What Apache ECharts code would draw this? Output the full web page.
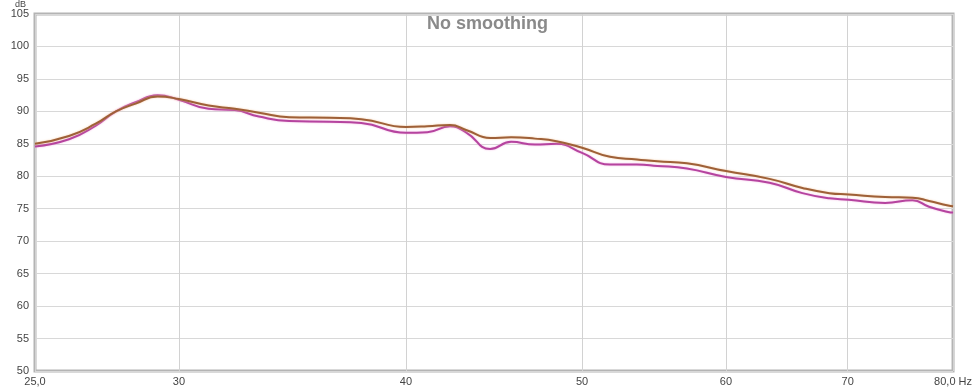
<!DOCTYPE html>
<html>
<head>
<meta charset="utf-8">
<script src="https://cdn.jsdelivr.net/npm/echarts@6/dist/echarts.min.js"></script>
<style>html,body{margin:0;padding:0;background:#fff;}#c{width:975px;height:389px;}</style>
</head>
<body>
<div id="c"></div>
<script>
const freqs = [25, 26.1, 27.0, 27.7, 28.4, 29.2, 30, 31.15, 32.2, 33.2, 34.5, 36.3, 37.8, 40, 41.1, 42.3, 43.2, 44.5, 45.7, 47.1, 48.4, 50, 51.8, 53.6, 55.0, 57.1, 60, 63.4, 66.1, 68.4, 70.1, 73.4, 76.0, 77.6, 79.5, 80];
const brownDb = [85.0, 86.2, 88.1, 90.0, 91.2, 92.3, 91.9, 90.9, 90.4, 89.8, 89.1, 89.0, 88.8, 87.6, 87.7, 87.9, 87.1, 85.9, 86.0, 85.8, 85.4, 84.4, 83.0, 82.6, 82.3, 82.0, 80.8, 79.6, 78.2, 77.4, 77.2, 76.8, 76.7, 76.2, 75.5, 75.4];
const magentaDb = [84.6, 85.7, 87.8, 90.0, 91.4, 92.5, 91.8, 90.4, 90.2, 89.2, 88.5, 88.4, 88.2, 86.7, 86.8, 87.7, 86.7, 84.2, 85.3, 84.9, 85.0, 83.6, 81.8, 81.8, 81.6, 81.2, 79.9, 79.0, 77.4, 76.6, 76.4, 75.9, 76.3, 75.3, 74.5, 74.4];
const xTickValues = [25, 30, 40, 50, 60, 70, 80];
const xTickLabels = ['25,0', '30', '40', '50', '60', '70', '80,0 Hz'];
const xMin = 25, xMax = 80;

const toLn = f => Math.log(f);
const mk = arr => freqs.map((f, i) => [toLn(f), arr[i]]);
const font = 'Liberation Sans, Arial, sans-serif';

const chart = echarts.init(document.getElementById('c'), null, {renderer: 'canvas'});
chart.setOption({
  animation: false,
  backgroundColor: '#fff',
  title: {
    text: 'No smoothing', left: 'center', top: 10,
    textStyle: {color: '#8a8a8a', fontSize: 18, fontWeight: 'bold', fontFamily: font}
  },
  graphic: [{type: 'text', left: 15, top: 0, style: {text: 'dB', fontSize: 9, fill: '#444', fontFamily: font}}],
  grid: {left: 35, right: 16, top: 14, bottom: 18, show: true, borderColor: '#b4b4b4', borderWidth: 3, backgroundColor: 'transparent'},
  xAxis: {
    type: 'value', min: toLn(xMin), max: toLn(xMax),
    axisLine: {show: false},
    axisTick: {show: false, customValues: xTickValues.map(toLn)},
    axisLabel: {
      customValues: xTickValues.map(toLn),
      color: '#444', fontSize: 11, fontFamily: font, margin: 5,
      formatter: v => {
        let best = 0, bd = 1e9;
        xTickValues.forEach((t, i) => { const d = Math.abs(toLn(t) - v); if (d < bd) { bd = d; best = i; } });
        return xTickLabels[best];
      }
    },
    splitLine: {show: true, lineStyle: {color: '#d2d2d2', width: 1}}
  },
  yAxis: {
    type: 'value', min: 50, max: 105, interval: 5,
    axisLine: {show: false}, axisTick: {show: false},
    axisLabel: {color: '#444', fontSize: 11, fontFamily: font, margin: 6},
    splitLine: {show: true, lineStyle: {color: '#d8d8d8', width: 1}}
  },
  series: [
    {type: 'line', name: 'magenta', data: mk(magentaDb), smooth: 0.5, showSymbol: false, z: 2,
     lineStyle: {color: '#b5449f', width: 2, shadowColor: 'rgba(240,160,220,0.8)', shadowBlur: 2}},
    {type: 'line', name: 'brown', data: mk(brownDb), smooth: 0.5, showSymbol: false, z: 3,
     lineStyle: {color: '#9e6038', width: 2, shadowColor: 'rgba(240,190,140,0.8)', shadowBlur: 2}}
  ]
});
</script>
</body>
</html>
